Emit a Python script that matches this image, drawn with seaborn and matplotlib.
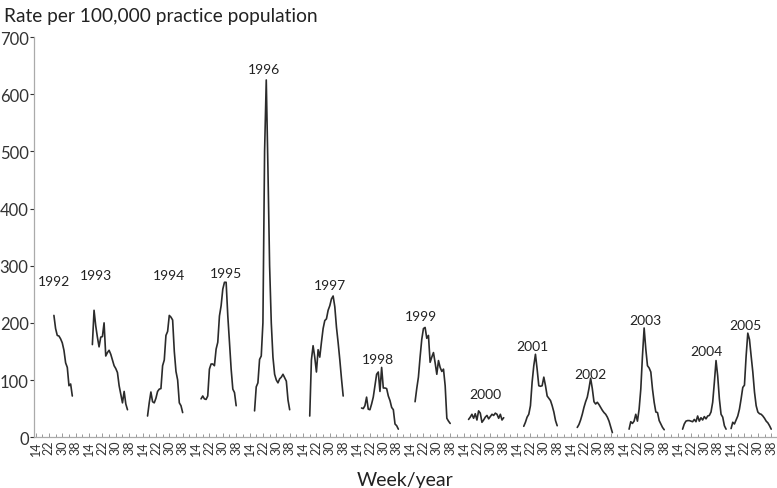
import numpy as np
import pandas as pd
import matplotlib
matplotlib.use("Agg")
import matplotlib.pyplot as plt
import seaborn as sns

# weekly consultation rates per 100,000, one list per season
years = [1992, 1993, 1994, 1995, 1996, 1997, 1998, 1999, 2000, 2001, 2002, 2003, 2004, 2005]
start_weeks = [25, 16, 17, 17, 17, 18, 17, 17, 17, 18, 18, 17, 17, 14]

rates_1992 = [213, 190, 178, 177, 172, 165, 152, 130, 122, 90, 93, 72]
rates_1993 = [162, 222, 195, 175, 158, 175, 176, 200, 142, 148, 152, 145, 135, 125, 120, 113,
              90, 75, 60, 80, 58, 48]
rates_1994 = [37, 60, 79, 62, 60, 68, 80, 84, 85, 125, 135, 178, 185, 213, 210, 205, 150, 115,
              100, 60, 55, 43]
rates_1995 = [67, 72, 67, 66, 72, 119, 128, 128, 125, 154, 166, 212, 230, 259, 271, 271, 212,
              166, 119, 84, 78, 55]
rates_1996 = [46, 88, 95, 136, 142, 200, 500, 625, 470, 300, 200, 140, 110, 100, 95, 102, 105,
              110, 104, 98, 65, 48]
rates_1997 = [37, 135, 160, 140, 114, 153, 140, 166, 190, 204, 207, 222, 230, 242, 247, 228,
              192, 165, 135, 102, 72]
rates_1998 = [51, 50, 55, 70, 49, 48, 58, 70, 90, 110, 114, 80, 122, 86, 86, 85, 72, 64, 52,
              48, 23, 20, 14]
rates_1999 = [62, 85, 105, 140, 171, 190, 192, 173, 178, 131, 140, 148, 130, 110, 134, 122,
              115, 119, 90, 33, 28, 24]
rates_2000 = [31, 35, 40, 33, 41, 30, 46, 42, 26, 30, 35, 38, 32, 36, 40, 38, 42, 40, 33, 40,
              30, 34]
rates_2001 = [19, 26, 35, 40, 55, 96, 125, 145, 119, 90, 89, 90, 105, 90, 72, 68, 64, 55, 44,
              29, 20]
rates_2002 = [17, 22, 30, 40, 52, 62, 70, 85, 103, 85, 62, 58, 61, 57, 52, 47, 43, 40, 35, 28,
              18, 8]
rates_2003 = [14, 27, 24, 28, 40, 28, 49, 84, 142, 191, 154, 125, 121, 114, 84, 61, 44, 43, 29,
              23, 17, 13]
rates_2004 = [14, 23, 28, 29, 29, 28, 27, 31, 27, 37, 28, 34, 30, 36, 32, 37, 38, 44, 61, 96,
              134, 107, 67, 40, 35, 20, 14]
rates_2005 = [15, 26, 23, 30, 37, 49, 67, 87, 91, 142, 182, 171, 142, 114, 79, 55, 44, 41, 40,
              37, 33, 28, 25, 20, 14]

all_rates = [rates_1992, rates_1993, rates_1994, rates_1995, rates_1996, rates_1997, rates_1998,
             rates_1999, rates_2000, rates_2001, rates_2002, rates_2003, rates_2004, rates_2005]

# where each year label sits (week, rate)
label_weeks = [24.8, 17.9, 29.6, 31.8, 22.5, 30.0, 26.8, 20.5, 26.9, 23.0, 25.7, 26.7, 31.2, 22.6]
label_rates = [274, 284, 284, 287, 644, 267, 137, 212, 76, 160, 111, 205, 151, 197]

tick_weeks = [14, 22, 30, 38]
season_len = 32  # axis positions given to each year (week 14 to week 46)

rows = []
for i, (yr, sw, vals) in enumerate(zip(years, start_weeks, all_rates)):
    for j, v in enumerate(vals):
        wk = sw + j
        rows.append({"year": yr, "week": wk, "pos": i * season_len + wk - 14, "rate": v})
df = pd.DataFrame(rows)

sns.set_style("white")
plt.rcParams['font.family'] = ['Lato', 'DejaVu Sans']

fig = plt.figure(figsize=(7.77, 4.89), dpi=100)
ax = fig.add_axes([0.044, 0.104, 0.955, 0.818])

sns.lineplot(data=df, x="pos", y="rate", units="year", estimator=None,
             color="#2b2b2b", linewidth=1.2, ax=ax, legend=False)

for i, yr in enumerate(years):
    ax.text(i * season_len + label_weeks[i] - 14, label_rates[i], str(yr),
            ha="center", va="center", fontsize=10, color="#222222")

ticks = [i * season_len + w - 14 for i in range(len(years)) for w in tick_weeks]
ax.set_xticks(ticks)
ax.set_xticklabels([str(w) for _ in years for w in tick_weeks], rotation=90,
                   fontsize=9, color="#333333")
ax.set_xticks([t + 4 for t in ticks], minor=True)
ax.set_xlim(-0.8, len(years) * season_len - 5)
ax.set_ylim(0, 700)
ax.set_yticks(range(0, 701, 100))
ax.tick_params(axis="y", labelsize=12, colors="#333333", length=3, width=0.8, pad=1,
               left=True, direction="out")
ax.tick_params(axis="x", which="both", direction="in", length=3, width=0.7,
               colors="#999999", labelcolor="#333333", pad=2, bottom=True)
ax.tick_params(axis="x", which="minor", length=2)

for s in ["top", "right"]:
    ax.spines[s].set_visible(False)
for s in ["left", "bottom"]:
    ax.spines[s].set_color("#aaaaaa")
    ax.spines[s].set_linewidth(0.9)

ax.set_xlabel("Week/year", fontsize=14, color="#222222", labelpad=12)
ax.set_ylabel("")
fig.text(0.005, 0.967, "Rate per 100,000 practice population", fontsize=13.8,
         color="#222222", ha="left", va="center")

fig.savefig("out.png", dpi=100)
